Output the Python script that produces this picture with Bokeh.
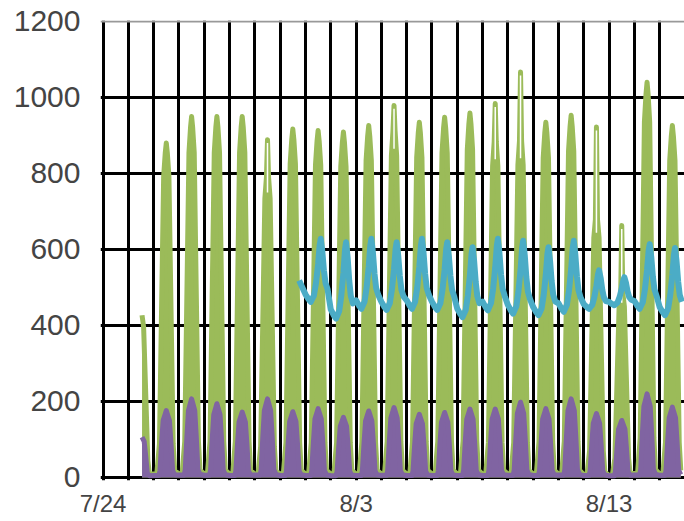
import numpy as np
from bokeh.plotting import figure
from bokeh.models import FixedTicker, Grid
from bokeh.embed import file_html
from bokeh.resources import INLINE

# ---- data (x = days after 7/24 00:00) ----
tick_days = [0, 10, 20]
tick_labels = ["7/24", "8/3", "8/13"]
y_ticks = [0, 200, 400, 600, 800, 1000]
grid_days = list(range(0, 24))

# daily shapes (hour of day -> share of the day's peak)
green_hours = [0, 3, 5.5, 7.5, 9.5, 11, 12, 13, 14.5, 16.5, 18.5, 20]
green_frac = [0.01, 0.01, 0.1, 0.5, 0.9, 0.97, 1.0, 0.97, 0.9, 0.5, 0.1, 0.02]
purple_hours = [0, 5, 6, 7.5, 9, 11, 12, 13, 15, 16.5, 18, 20]
purple_frac = [0.03, 0.03, 0.1, 0.5, 0.85, 0.95, 1.0, 0.95, 0.85, 0.5, 0.1, 0.04]
start_hour = 13  # data begin on 7/25 ~13:00

day_index = list(range(1, 23))  # 7/25 .. 8/15
green_body = [440, 880, 950, 950, 950, 815, 917, 913, 909, 926, 940, 935, 948, 959,
              910, 913, 935, 953, 700, 500, 1040, 926]
green_spike = [0, 0, 0, 0, 0, 889, 0, 0, 0, 0, 979, 0, 0, 0,
               984, 1067, 0, 0, 922, 663, 0, 0]
purple_peak = [112, 176, 207, 194, 172, 207, 173, 181, 158, 175, 184, 166, 171, 180,
               180, 198, 181, 207, 168, 150, 220, 185]

teal_days = list(range(8, 23))  # 8/1 .. 8/15
teal_peak = [628, 619, 628, 619, 628, 619, 606, 628, 623, 606, 623, 545, 527, 614, 604]
teal_low = [462, 418, 444, 441, 444, 441, 422, 440, 431, 427, 436, 444, 453, 444, 427]
teal_hours = [0, 3, 5, 8, 10, 12, 13.5, 14.5, 16, 17.5, 19, 21]
teal_frac = [0.12, 0.04, 0.0, 0.1, 0.3, 0.6, 0.9, 1.0, 0.8, 0.5, 0.3, 0.2]
teal_start_day = 7.75
teal_start_value = 518

GREEN = "#9BBB59"
PURPLE = "#8064A2"
TEAL = "#4BACC6"

# ---- build series ----
gx, gy, px, py = [], [], [], []
hollow_x, hollow_y = [], []
for d, body, spike, pk in zip(day_index, green_body, green_spike, purple_peak):
    for h, gf in zip(green_hours, green_frac):
        if d == day_index[0] and h < start_hour:
            continue
        gv = body * gf
        if h == 12 and spike > body:
            gv = spike
        gx.append(d + h / 24.0)
        gy.append(gv)
    for h, pf in zip(purple_hours, purple_frac):
        if d == day_index[0] and h < start_hour:
            continue
        px.append(d + h / 24.0)
        py.append(pk * pf)
    if spike > body:
        hollow_x.append([d + 0.5, d + 0.5])
        hollow_y.append([body * 0.92, spike - 9])

tx, ty = [teal_start_day], [teal_start_value]
for d, pk, lo in zip(teal_days, teal_peak, teal_low):
    for h, f in zip(teal_hours, teal_frac):
        tx.append(d + h / 24.0)
        ty.append(lo + f * (pk - lo))

# ---- figure ----
p = figure(width=684, height=521, x_range=(-0.1, 22.98), y_range=(-8, 1202.5),
           output_backend="svg", toolbar_location=None,
           min_border_left=100, min_border_right=0, min_border_top=20, min_border_bottom=41)
p.outline_line_color = None
p.background_fill_color = "white"
p.border_fill_color = "white"

p.xgrid.ticker = FixedTicker(ticks=grid_days)
p.xgrid.grid_line_color = "black"
p.xgrid.grid_line_width = 3
p.ygrid.ticker = FixedTicker(ticks=y_ticks)
p.ygrid.grid_line_color = "black"
p.ygrid.grid_line_width = 3
top_grid = Grid(dimension=1, ticker=FixedTicker(ticks=[1200]),
                grid_line_color="#999999", grid_line_width=2)
p.add_layout(top_grid)

p.varea(x=gx, y1=0, y2=gy, fill_color=GREEN)
p.line(gx, gy, line_color=GREEN, line_width=5, line_join="round")
p.multi_line(hollow_x, hollow_y, line_color="white", line_width=1.5)
p.varea(x=px, y1=0, y2=py, fill_color=PURPLE)
p.line(px, py, line_color=PURPLE, line_width=5, line_join="round")
p.line(tx, ty, line_color=TEAL, line_width=6, line_join="round")

# axes
p.xaxis.ticker = FixedTicker(ticks=tick_days)
p.xaxis.major_label_overrides = {d: l for d, l in zip(tick_days, tick_labels)}
p.yaxis.ticker = FixedTicker(ticks=y_ticks + [1200])
for ax in (p.xaxis[0], p.yaxis[0]):
    ax.axis_line_color = None
    ax.major_tick_line_color = None
    ax.minor_tick_line_color = None
    ax.major_tick_in = 0
    ax.major_tick_out = 0
    ax.minor_tick_in = 0
    ax.minor_tick_out = 0
    ax.major_label_text_font = "Liberation Sans"
    ax.major_label_text_color = "#444444"
p.yaxis.major_label_text_font_size = "30px"
p.yaxis.major_label_standoff = 20
p.xaxis.major_label_text_font_size = "24px"
p.xaxis.major_label_standoff = 9

open("out.html", "w").write(file_html(p, INLINE))
